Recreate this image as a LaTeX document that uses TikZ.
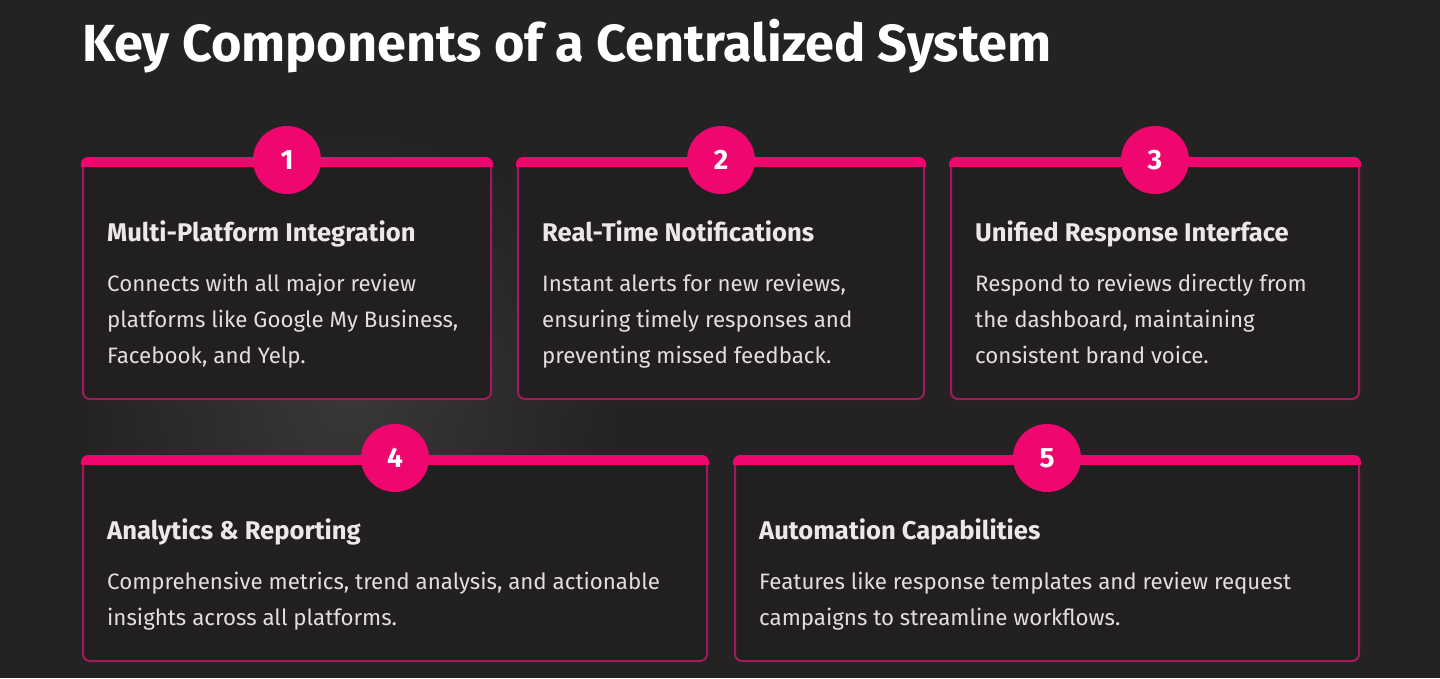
\documentclass[tikz,border=0pt]{standalone}
\usepackage{fontspec}
\setmainfont{Fira Sans}
\usetikzlibrary{positioning}
\definecolor{bgdark}{HTML}{242223}
\definecolor{bglight}{HTML}{393737}
\definecolor{cardfill}{HTML}{221F20}
\definecolor{cardline}{HTML}{A21B5D}
\definecolor{hotpink}{HTML}{F0066F}
\definecolor{headtxt}{HTML}{ECE8E8}
\definecolor{bodytxt}{HTML}{E2DEDE}

\begin{document}
\begin{tikzpicture}[x=1pt, y=-1pt,
  card/.style={draw=cardline, line width=2pt, fill=cardfill, rounded corners=7pt, anchor=north west, inner sep=0pt},
  badge/.style={circle, fill=hotpink, minimum size=68pt, inner sep=0pt, text=white, font=\fontsize{28}{30}\selectfont\bfseries},
  head/.style={anchor=base west, inner sep=0pt, text=headtxt, font=\fontsize{25.6}{30}\selectfont\bfseries},
  body/.style={inner sep=0pt, align=left, text=bodytxt, font=\fontsize{22.3}{36}\selectfont}]
% background
\useasboundingbox (0,0) rectangle (1440,678);
\clip (0,0) rectangle (1440,678);
\fill[bgdark] (0,0) rectangle (1440,678);
\shade[inner color=bglight, outer color=bgdark] (350,400) circle (268);

\node[anchor=base west, inner sep=0pt, text=white, font=\fontsize{52.2}{58}\selectfont\bfseries] (title) at (82,61) {Key Components of a Centralized System};

% cards
\node[card, minimum width=408pt, minimum height=240pt] (c1) at (82,158) {};
\node[card, minimum width=406pt, minimum height=240pt] (c2) at (517,158) {};
\node[card, minimum width=408pt, minimum height=240pt] (c3) at (950,158) {};
\node[card, minimum width=624pt, minimum height=204pt] (c4) at (82,456) {};
\node[card, minimum width=624pt, minimum height=204pt] (c5) at (734,456) {};

\foreach \c/\n in {c1/1,c2/2,c3/3,c4/4,c5/5}{
  \begin{scope}
    \clip ([shift={(-2pt,2pt)}]\c.north west) rectangle ([shift={(2pt,-8pt)}]\c.north east);
    \fill[hotpink, rounded corners=7pt] ([shift={(-1pt,1pt)}]\c.north west) rectangle ([shift={(1pt,-30pt)}]\c.north east);
  \end{scope}
  \node[badge] (b\n) at ([yshift=-2pt]\c.north) {\n};
}

% texts
\node[head] (h1) at ([shift={(25pt,-83pt)}]c1.north west) {Multi-Platform Integration};
\node[body, below right=33pt and 0pt of h1.base west] (t1) {Connects with all major review\\platforms like Google My Business,\\Facebook, and Yelp.};
\node[head] (h2) at ([shift={(25pt,-83pt)}]c2.north west) {Real-Time Notifications};
\node[body, below right=33pt and 0pt of h2.base west] (t2) {Instant alerts for new reviews,\\ensuring timely responses and\\preventing missed feedback.};
\node[head] (h3) at ([shift={(25pt,-83pt)}]c3.north west) {Unified Response Interface};
\node[body, below right=33pt and 0pt of h3.base west] (t3) {Respond to reviews directly from\\the dashboard, maintaining\\consistent brand voice.};
\node[head] (h4) at ([shift={(25pt,-83pt)}]c4.north west) {Analytics \& Reporting};
\node[body, below right=33pt and 0pt of h4.base west] (t4) {Comprehensive metrics, trend analysis, and actionable\\insights across all platforms.};
\node[head] (h5) at ([shift={(25pt,-83pt)}]c5.north west) {Automation Capabilities};
\node[body, below right=33pt and 0pt of h5.base west] (t5) {Features like response templates and review request\\campaigns to streamline workflows.};
\end{tikzpicture}
\end{document}
